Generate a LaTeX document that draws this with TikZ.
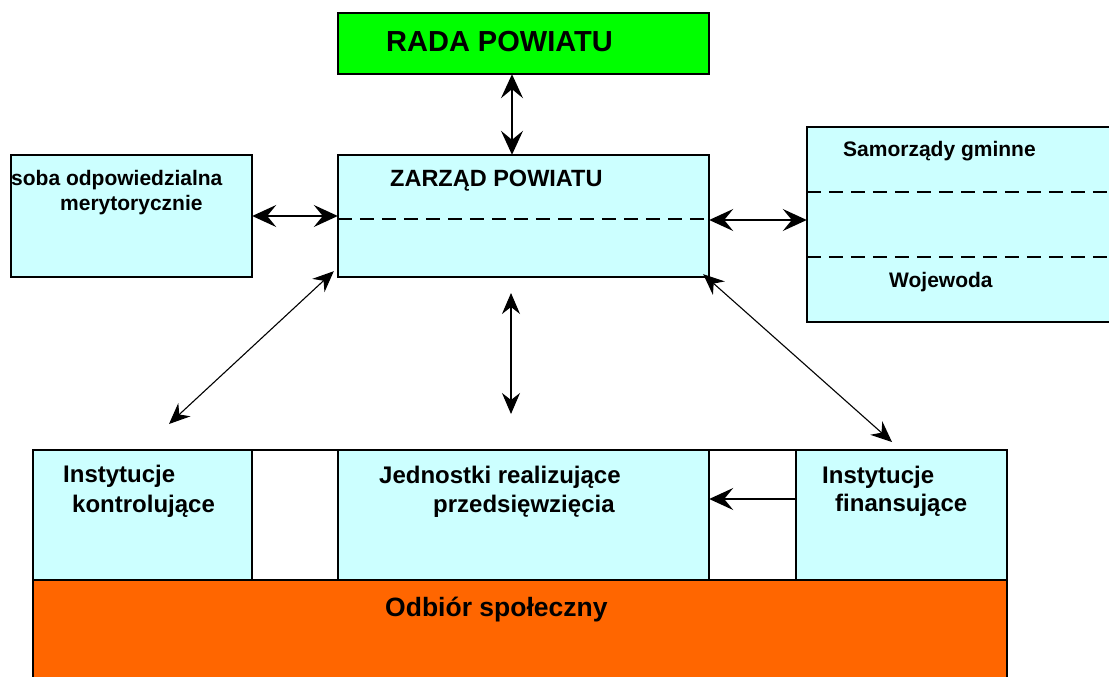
\documentclass[tikz,border=0pt]{standalone}
\usepackage{fontspec}
\setmainfont{Liberation Sans}
\usetikzlibrary{arrows.meta}
\definecolor{boxcyan}{HTML}{CCFFFF}
\definecolor{boxgreen}{HTML}{00FF00}
\definecolor{boxorange}{HTML}{FF6600}
\tikzset{
  frame/.style={draw=black, line width=1.8pt, inner sep=0pt, outer sep=0pt},
  lbl/.style={anchor=base west, inner sep=0pt, font=\bfseries},
  sepline/.style={draw=black, line width=1.5pt, dash pattern=on 14pt off 8pt},
  bigarr/.style={line width=1.5pt, {Stealth[length=24pt,width=22pt,inset=9pt]}-{Stealth[length=24pt,width=22pt,inset=9pt]}},
  thinarr/.style={line width=1.1pt, {Stealth[length=21pt,width=18pt,inset=7pt]}-{Stealth[length=21pt,width=18pt,inset=7pt]}},
  onearr/.style={line width=1.5pt, -{Stealth[length=24pt,width=22pt,inset=9pt]}}
}
\newcommand{\fs}[1]{\fontsize{#1}{#1}\selectfont}
\begin{document}
\begin{tikzpicture}[x=1pt,y=-1pt]
\useasboundingbox (0,0) rectangle (1109,677);
% boxes
\path[frame, fill=boxgreen] (338,13) rectangle (709,74);
\node[inner sep=0pt] (rada) at (523.5,43.5) [minimum width=371pt, minimum height=61pt] {};
\path[frame, fill=boxcyan] (338,155) rectangle (709,277);
\node[inner sep=0pt] (zarzad) at (523.5,216) [minimum width=371pt, minimum height=122pt] {};
\path[frame, fill=boxcyan] (11,155) rectangle (252,277);
\node[inner sep=0pt] (osoba) at (131.5,216) [minimum width=241pt, minimum height=122pt] {};
\path[frame, fill=boxcyan] (807,127) rectangle (1120,322);
\node[inner sep=0pt] (samorzady) at (963.5,224.5) [minimum width=313pt, minimum height=195pt] {};
% bottom row
\path[frame, fill=white] (33,450) rectangle (1007,580);
\path[frame, fill=boxcyan] (33,450) rectangle (252,580);
\node[inner sep=0pt] (kontrol) at (142.5,515) [minimum width=219pt, minimum height=130pt] {};
\path[frame, fill=boxcyan] (338,450) rectangle (709,580);
\node[inner sep=0pt] (jedn) at (523.5,515) [minimum width=371pt, minimum height=130pt] {};
\path[frame, fill=boxcyan] (796,450) rectangle (1007,580);
\node[inner sep=0pt] (finans) at (901.5,515) [minimum width=211pt, minimum height=130pt] {};
\path[frame, fill=boxorange] (33,580) rectangle (1007,690);
\node[inner sep=0pt] (odbior) at (520,635) [minimum width=974pt, minimum height=110pt] {};
% dashed separators
\draw[sepline] (zarzad.west |- 0,219) -- (zarzad.east |- 0,219);
\draw[sepline] (samorzady.west |- 0,192) -- (1109,192);
\draw[sepline] (samorzady.west |- 0,257) -- (1109,257);
% texts
\node[lbl, font=\bfseries\fs{29}] (t1) at (386,52) {RADA POWIATU};
\node[lbl, font=\bfseries\fs{23.5}] (t2) at (390,186) {ZARZĄD POWIATU};
\node[lbl, font=\bfseries\fs{21}] (t3) at (11,185) {soba odpowiedzialna};
\node[lbl, font=\bfseries\fs{21}] (t4) at (60,210) {merytorycznie};
\node[lbl, font=\bfseries\fs{21}] (t5) at (843,156) {Samorządy gminne};
\node[lbl, font=\bfseries\fs{21}] (t6) at (889,287) {Wojewoda};
\node[lbl, font=\bfseries\fs{24}] (t7) at (63,482) {Instytucje};
\node[lbl, font=\bfseries\fs{24}] (t8) at (72,512) {kontrolujące};
\node[lbl, font=\bfseries\fs{24}] (t9) at (379,483) {Jednostki realizujące};
\node[lbl, font=\bfseries\fs{24}] (t10) at (433,512) {przedsięwzięcia};
\node[lbl, font=\bfseries\fs{24}] (t11) at (822,483) {Instytucje};
\node[lbl, font=\bfseries\fs{24}] (t12) at (835,511) {finansujące};
\node[lbl, font=\bfseries\fs{26.5}] (t13) at (385,616) {Odbiór społeczny};
% free arrow ends
\coordinate (c1) at (511,293);
\coordinate (c2) at (511,414);
\coordinate (c3) at (169,424);
\coordinate (c4) at (892,442);
% connectors
\draw[bigarr] (rada.south -| 512,0) -- (zarzad.north -| 512,0);
\draw[bigarr] (osoba.east |- 0,216) -- (zarzad.west |- 0,216);
\draw[bigarr] (zarzad.east |- 0,220) -- (samorzady.west |- 0,220);
\draw[thinarr] (c1) -- (c2);
\draw[thinarr] (zarzad.south west) ++(-4,-6) -- (c3);
\draw[thinarr] (zarzad.south east) ++(-6,-3) -- (c4);
\draw[onearr] (finans.west |- 0,499) -- (jedn.east |- 0,499);
\end{tikzpicture}
\end{document}
